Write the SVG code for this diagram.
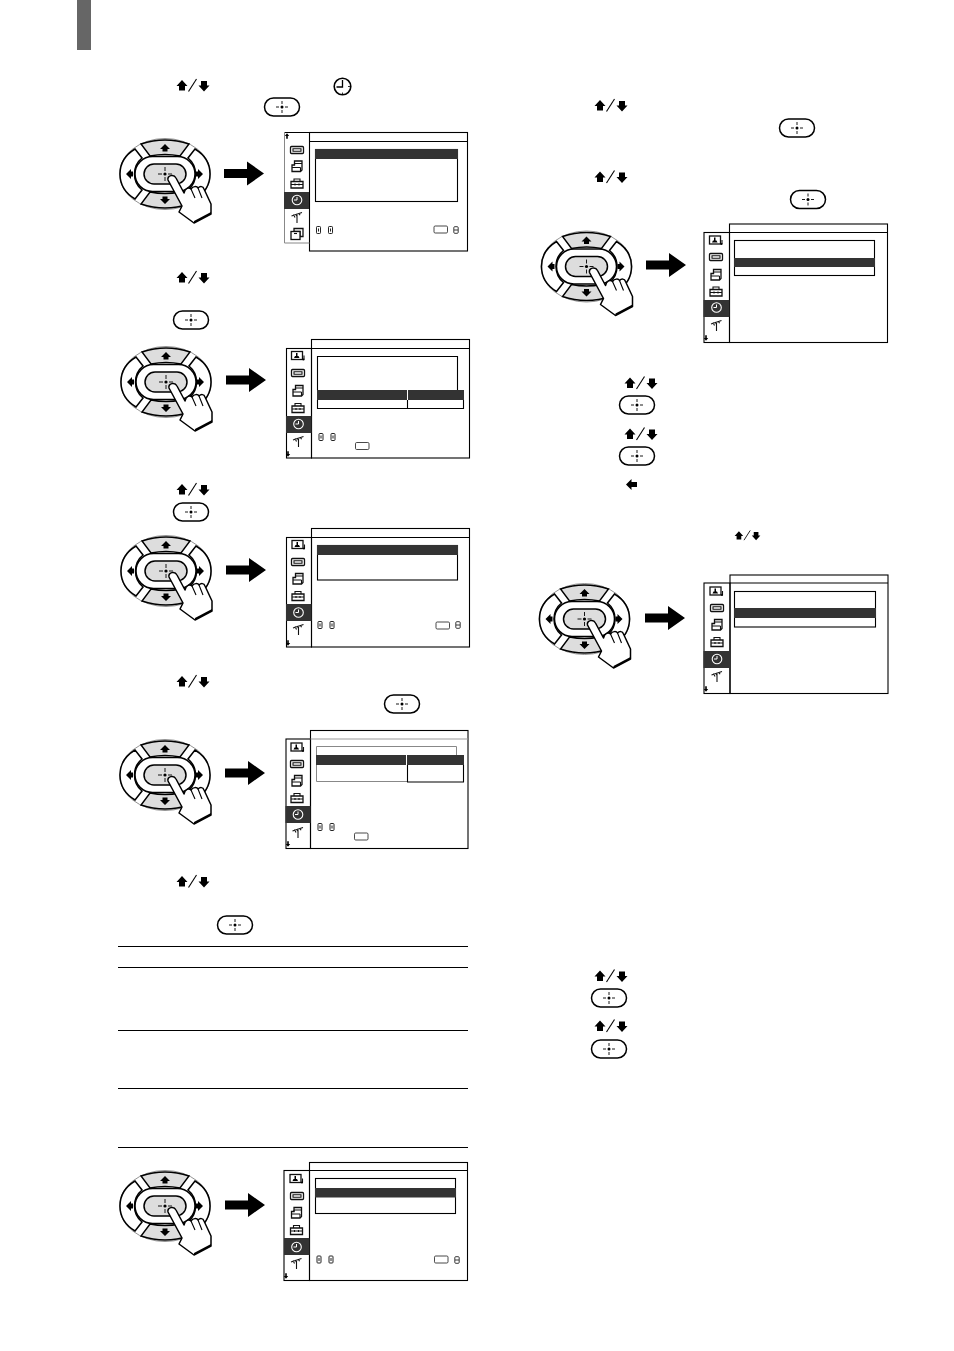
<svg xmlns="http://www.w3.org/2000/svg" xmlns:xlink="http://www.w3.org/1999/xlink" width="954" height="1351" viewBox="0 0 954 1351">
<style>
.f{fill:#fff;stroke:#000;stroke-width:1.1}
.n{fill:none;stroke:#000;stroke-width:1.1}
.g{fill:none;stroke:#888;stroke-width:1}
.d{fill:#333;stroke:none}
.k{fill:#000;stroke:none}
.ic{fill:#fff;stroke:#111;stroke-width:1.3}
.ln{fill:none;stroke:#111;stroke-width:1.1}
.rule{stroke:#000;stroke-width:1}
.btn{fill:#fff;stroke:#000;stroke-width:1.5}
.gb{fill:#ddd;stroke:#000;stroke-width:1.5}
.wb{fill:#fff;stroke:#000;stroke-width:1.5}
.xh{fill:none;stroke:#000;stroke-width:.9}
.sm{fill:#fff;stroke:#222;stroke-width:1}
</style>
<defs>
<symbol id="cross" overflow="visible"><path class="xh" d="M-7,0H-3M3,0H7M0,-7V-3M0,3V7"/><circle r="1.6" class="k"/></symbol>
<symbol id="pill" overflow="visible"><rect x="-17.500" y="-9" width="35" height="18" rx="9" class="btn"/><path class="xh" d="M-6,0H-3M3,0H6M0,-6V-3M0,3V6"/><circle r="1.500" class="k"/></symbol>
<symbol id="updown" overflow="visible"><path class="k" d="M-16.500,0.500L-11,-5.500L-5.500,0.500H-8V5H-14V0.500Z"/><path class="k" d="M5.500,0L11,6L16.500,0H14V-4.500H8V0Z"/><path d="M-4.500,6L3.500,-6.500" fill="none" stroke="#000" stroke-width="1.100"/></symbol>
<symbol id="bigarrow" overflow="visible"><path class="k" d="M0,-4.500H23V-12L40,0L23,12V4.500H0Z"/></symbol>
<symbol id="remote" overflow="visible">
<ellipse rx="45.500" ry="35.500" fill="#fff" stroke="#777" stroke-width=".8"/>
<path class="gb" d="M-24,-30Q0,-38 24,-30L15,-18Q0,-21 -15,-18Z"/>
<path class="gb" d="M-24,30Q0,38 24,30L15,18Q0,21 -15,18Z"/>
<path class="wb" d="M-30,-25C-50,-13 -50,13 -30,25L-23,16C-33,8 -33,-8 -23,-16Z"/>
<path class="wb" d="M30,-25C50,-13 50,13 30,25L23,16C33,8 33,-8 23,-16Z"/>
<rect x="-30" y="-17.500" width="60" height="35" rx="17.500" class="wb"/>
<rect x="-21" y="-10" width="42" height="20" rx="10" class="gb"/>
<path class="k" d="M-5,-25L0,-30L5,-25H2.500V-22.500H-2.500V-25Z"/>
<path class="k" d="M-5,25L0,30L5,25H2.500V22.500H-2.500V25Z"/>
<path class="k" d="M-34,-5V-2.500H-32V2.500H-34V5L-39,0Z"/>
<path class="k" d="M33,-5V-2.500H31V2.500H33V5L38,0Z"/>
<use href="#cross"/>
<path fill="#fff" stroke="#000" stroke-width="1.500" stroke-linejoin="round" d="M3,6C2,1 9,0 11,4L19,19C20,14 24,13 26,15C28,12 32,12 33,14C35,12 38,12 39,15L46,30V40L29,49L14,38L17,32Z"/>
<path d="M29,49L46,40V38L29,47Z" class="k"/>
<path class="n" d="M26,15L30,24M33,14L37,24"/>
</symbol>
<symbol id="i-person" overflow="visible"><rect x="-6" y="-4" width="11" height="8" class="ic"/><path class="k" d="M-3.500,2.500H2L1,0.500H0V-2.500H-1.500V0.500H-2.500Z"/><path class="ln" d="M6.500,4V0"/><circle cx="6" cy="4" r="1.100" class="k"/></symbol>
<symbol id="i-wide" overflow="visible"><rect x="-6.500" y="-3.500" width="13" height="7" rx="1" class="ic"/><path class="ln" d="M-4,-1.200H4V1.200H-4Z" stroke-width=".9"/></symbol>
<symbol id="i-doc" overflow="visible"><path class="ic" d="M-2.500,-5.500H5V3.500L3.500,5H-5V-1.500H-2.500Z"/><path class="ln" d="M-2.500,-3H5M-5,1H3.500M3.500,1V5M-2.500,-3V-1.500"/></symbol>
<symbol id="i-box" overflow="visible"><path class="ic" d="M-6,-2H6V4.500H-6Z"/><path class="ln" d="M-3,-2V-4.500H3V-2M-6,1H6M-2,0V2M2,0V2"/></symbol>
<symbol id="i-clock" overflow="visible"><circle r="4.800" fill="none" stroke="#fff" stroke-width="1.100"/><path d="M0,-3V0H-3" fill="none" stroke="#fff" stroke-width="1"/></symbol>
<symbol id="i-ant" overflow="visible"><path class="ln" d="M-5.500,-1L5,-4.500M-3.500,-2.500L-2,0.500M-1,-3L0,-0.500M2,-3.800L3,-1.800M0,-2V6" /></symbol>
<symbol id="i-copy" overflow="visible"><path class="ic" d="M-3,-5H6V3H3V-2H-3Z"/><rect x="-6" y="-2" width="9" height="8" class="ic"/><path class="ln" d="M-3,0H0"/></symbol>
<symbol id="sbtn" overflow="visible"><rect x="-2" y="-3.500" width="4" height="7" rx=".8" class="sm"/><path d="M0,-1.500V1.500" stroke="#222" stroke-width="1"/></symbol>
<symbol id="sup" overflow="visible"><path class="k" d="M-2.200,0L0,-2.800L2.200,0H.8V2.800H-.8V0Z"/></symbol>
<symbol id="sdown" overflow="visible"><path class="k" d="M-2.200,0L0,2.800L2.200,0H.8V-2.800H-.8V0Z"/></symbol>
<symbol id="bigrect" overflow="visible"><rect width="13.500" height="7" rx="1.200" fill="#fff" stroke="#333" stroke-width=".9"/></symbol>
<symbol id="mini" overflow="visible"><rect x="-2.200" y="-3.300" width="4.400" height="6.600" rx="1" fill="#fff" stroke="#222" stroke-width=".9"/><path d="M-2,0H2" stroke="#222" stroke-width=".9"/></symbol>
</defs>

<rect id="tab" x="77" y="0" width="14" height="50" fill="#666"/>

<g id="inline-symbols">
<use href="#updown" x="193" y="85.500"/>
<g id="clock-symbol"><circle cx="342.500" cy="86.500" r="8.300" fill="#fff" stroke="#000" stroke-width="1.600"/><path d="M342.500,80V87H336.500" fill="none" stroke="#000" stroke-width="1.300"/><path d="M342.500,92.500V94.800M350,86.500H348" stroke="#000" stroke-width=".8"/></g>
<use href="#pill" x="282" y="107"/>
<use href="#updown" x="193" y="277.500"/>
<use href="#pill" x="191" y="320"/>
<use href="#updown" x="193" y="489.500"/>
<use href="#pill" x="191" y="512"/>
<use href="#updown" x="193" y="681.500"/>
<use href="#pill" x="402" y="704"/>
<use href="#updown" x="193" y="881.500"/>
<use href="#pill" x="235" y="925"/>
<use href="#updown" x="611" y="105.500"/>
<use href="#pill" x="797" y="128"/>
<use href="#updown" x="611" y="177"/>
<use href="#pill" x="808" y="199.500"/>
<use href="#updown" x="641" y="383"/>
<use href="#pill" x="637" y="405"/>
<use href="#updown" x="641" y="434"/>
<use href="#pill" x="637" y="456"/>
<path id="left-arrow" class="k" d="M626,484.500L631.500,479V482H637V487H631.500V490Z"/>
<use href="#updown" transform="translate(747.500 535.500) scale(.78)"/>
<use href="#updown" x="611" y="976"/>
<use href="#pill" x="609" y="998"/>
<use href="#updown" x="611" y="1026"/>
<use href="#pill" x="609" y="1049"/>
</g>

<g id="remotes">
<use id="remote1" href="#remote" x="165" y="174"/>
<use id="remote2" href="#remote" x="166" y="382"/>
<use id="remote3" href="#remote" x="166" y="571"/>
<use id="remote4" href="#remote" x="165" y="775"/>
<use id="remote5" href="#remote" x="165" y="1206"/>
<use id="remote6" href="#remote" x="586.500" y="266.500"/>
<use id="remote7" href="#remote" x="584.500" y="619"/>
</g>

<g id="connectors">
<use href="#bigarrow" x="224" y="173.500"/>
<use href="#bigarrow" x="226" y="380"/>
<use href="#bigarrow" x="226" y="570"/>
<use href="#bigarrow" x="225" y="773"/>
<use href="#bigarrow" x="225" y="1205"/>
<use href="#bigarrow" x="646" y="265"/>
<use href="#bigarrow" x="645" y="618"/>
</g>

<g id="panel1">
<rect x="309.500" y="132.500" width="158" height="118.500" class="n"/>
<path class="n" d="M284.500,132.500H309.500M309.500,141.500H467.500"/>
<path class="g" d="M284.500,132.500V243H309.500"/>
<rect x="284" y="192" width="25" height="17" class="d"/>
<rect x="315.500" y="149.500" width="142" height="52" class="n"/>
<rect x="315" y="149" width="143" height="10" class="d"/>
<use href="#sup" x="287" y="136"/>
<use href="#i-wide" x="297" y="150"/><use href="#i-doc" x="297" y="166.500"/><use href="#i-box" x="297" y="183.500"/><use href="#i-clock" x="297" y="200"/><use href="#i-ant" x="297" y="217"/><use href="#i-copy" x="297" y="233.500"/>
<use href="#sbtn" x="318.500" y="230"/><use href="#sbtn" x="330.500" y="230"/><use href="#bigrect" x="434" y="226"/><use href="#mini" x="456" y="230"/>
</g>

<g id="panel2">
<rect x="311.500" y="339.500" width="158" height="118.500" class="n"/>
<rect x="286.500" y="348.500" width="25" height="109.500" class="n"/>
<path class="n" d="M311.500,348.500H469.500"/>
<rect x="286" y="416" width="25.500" height="17" class="d"/>
<path class="n" d="M317.500,390V356.500H457.500V390"/>
<rect x="317" y="390" width="90" height="10" class="d"/><rect x="408" y="390" width="56" height="10" class="d"/>
<path class="n" d="M317.500,400V408.500H463.500V400M407.500,400V408.500"/>
<use href="#sdown" x="288" y="454"/>
<use href="#i-person" x="297.500" y="355.500"/><use href="#i-wide" x="298" y="373"/><use href="#i-doc" x="298" y="391"/><use href="#i-box" x="298" y="408"/><use href="#i-clock" x="298.500" y="424"/><use href="#i-ant" x="298.500" y="441"/>
<use href="#sbtn" x="321" y="437"/><use href="#sbtn" x="333" y="437"/><use href="#bigrect" x="355.500" y="442.500"/>
</g>

<g id="panel3">
<rect x="311.500" y="528.500" width="158" height="118.500" class="n"/>
<rect x="286.500" y="537.500" width="25" height="109.500" class="n"/>
<path class="n" d="M311.500,537.500H469.500"/>
<rect x="286" y="604" width="25.500" height="17" class="d"/>
<rect x="317.500" y="545.500" width="140" height="34.500" class="n"/>
<rect x="317" y="545" width="141" height="10" class="d"/>
<use href="#sdown" x="288" y="643"/>
<use href="#i-person" x="298" y="544.500"/><use href="#i-wide" x="298" y="562"/><use href="#i-doc" x="298" y="579"/><use href="#i-box" x="298" y="596"/><use href="#i-clock" x="298.500" y="612.500"/><use href="#i-ant" x="298.500" y="629"/>
<use href="#sbtn" x="320" y="625"/><use href="#sbtn" x="332" y="625"/><use href="#bigrect" x="436" y="622"/><use href="#mini" x="458" y="625"/>
</g>

<g id="panel4">
<rect x="310.500" y="730.500" width="157.500" height="118" class="n"/>
<rect x="286" y="739" width="24.500" height="109.500" class="n"/>
<path d="M310.500,739H468" fill="none" stroke="#999" stroke-width="1"/>
<rect x="285.500" y="806" width="25" height="17" class="d"/>
<path class="g" d="M316.500,755V746.500H456.500V755M316.500,765V781.500H407"/>
<rect x="316" y="755" width="90" height="10" class="d"/><rect x="407" y="755" width="57" height="10" class="d"/>
<path class="n" d="M407.500,765V782H463.500V765"/>
<use href="#sdown" x="288" y="844"/>
<use href="#i-person" x="297" y="747"/><use href="#i-wide" x="297" y="764"/><use href="#i-doc" x="297" y="781"/><use href="#i-box" x="297" y="798"/><use href="#i-clock" x="298" y="814.500"/><use href="#i-ant" x="298" y="832"/>
<use href="#sbtn" x="320" y="827"/><use href="#sbtn" x="332" y="827"/><use href="#bigrect" x="354.500" y="833"/>
</g>

<g id="panel5">
<rect x="309.500" y="1162.500" width="158" height="118" class="n"/>
<rect x="284" y="1170.500" width="25.500" height="110" class="n"/>
<path class="n" d="M309.500,1170.500H467.500"/>
<rect x="284" y="1238" width="25.500" height="17" class="d"/>
<rect x="315.500" y="1178.500" width="140" height="35" class="n"/>
<rect x="315" y="1188" width="141" height="9.500" class="d"/>
<use href="#sdown" x="286" y="1276"/>
<use href="#i-person" x="296" y="1178.500"/><use href="#i-wide" x="297" y="1196"/><use href="#i-doc" x="296.500" y="1213"/><use href="#i-box" x="296.500" y="1230"/><use href="#i-clock" x="296.500" y="1247"/><use href="#i-ant" x="296.500" y="1263"/>
<use href="#sbtn" x="319" y="1259.500"/><use href="#sbtn" x="331" y="1259.500"/><use href="#bigrect" x="434.500" y="1256"/><use href="#mini" x="457" y="1260"/>
</g>

<g id="panel6">
<rect x="729.500" y="224" width="158" height="118.500" class="n"/>
<rect x="704" y="232.500" width="25.500" height="110" class="n"/>
<path class="n" d="M729.500,232.500H887.500"/>
<rect x="703.500" y="300" width="26" height="17" class="d"/>
<rect x="734.500" y="240.500" width="140" height="35" class="n"/>
<rect x="734" y="258" width="141" height="9" class="d"/>
<use href="#sdown" x="706" y="338"/>
<use href="#i-person" x="715.500" y="240"/><use href="#i-wide" x="716" y="257"/><use href="#i-doc" x="716" y="275"/><use href="#i-box" x="716" y="291.500"/><use href="#i-clock" x="716.500" y="307.500"/><use href="#i-ant" x="716.500" y="325"/>
</g>

<g id="panel7">
<rect x="730" y="575" width="158" height="118.500" class="n"/>
<rect x="704" y="583" width="26" height="110.500" class="n"/>
<path class="n" d="M730,583H888"/>
<rect x="703.500" y="651" width="26.500" height="17" class="d"/>
<rect x="734.500" y="591.500" width="141" height="35.500" class="n"/>
<rect x="734" y="608" width="142" height="10" class="d"/>
<use href="#sdown" x="706" y="689"/>
<use href="#i-person" x="716" y="591"/><use href="#i-wide" x="717" y="608"/><use href="#i-doc" x="717" y="625"/><use href="#i-box" x="717" y="642"/><use href="#i-clock" x="717" y="659"/><use href="#i-ant" x="717" y="676"/>
</g>

<g id="table-rules">
<path class="rule" d="M118,946.500H468M118,967.500H468M118,1030.500H468M118,1088.500H468M118,1147.500H468"/>
</g>
</svg>
